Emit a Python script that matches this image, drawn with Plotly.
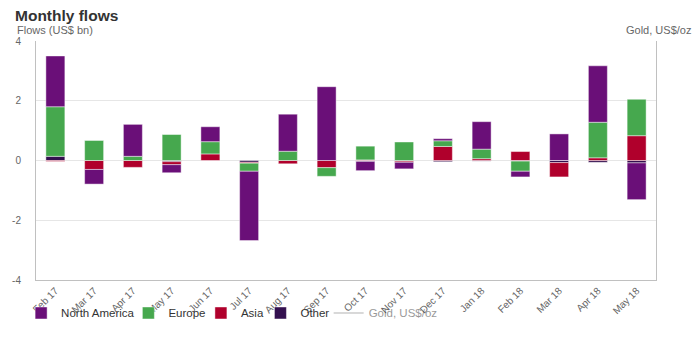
import plotly.graph_objects as go

months = ["Feb 17", "Mar 17", "Apr 17", "May 17", "Jun 17", "Jul 17", "Aug 17", "Sep 17",
          "Oct 17", "Nov 17", "Dec 17", "Jan 18", "Feb 18", "Mar 18", "Apr 18", "May 18"]

north_america = [1.70, -0.49, 1.07, -0.27, 0.50, -2.32, 1.24, 2.47,
                 -0.31, -0.22, 0.07, 0.92, -0.19, 0.89, 1.89, -1.23]
europe = [1.66, 0.67, 0.14, 0.87, 0.41, -0.27, 0.31, -0.29,
          0.46, 0.62, 0.19, 0.32, -0.34, 0.00, 1.19, 1.22]
asia = [-0.03, -0.30, -0.23, -0.10, 0.22, -0.03, -0.11, -0.24,
        0.02, -0.04, 0.47, 0.06, 0.30, -0.48, 0.09, 0.83]
other = [0.14, 0.00, 0.00, -0.04, 0.00, -0.06, 0.00, 0.00,
         -0.03, -0.02, -0.04, -0.02, -0.02, -0.07, -0.06, -0.08]
# hidden series (legend only) — its values are not visible in the chart
gold = [None] * len(months)

series_names = ["North America", "Europe", "Asia", "Other"]
series_colors = ["#6a0f78", "#46a84e", "#b0002c", "#33104f"]
series_values = [north_america, europe, asia, other]
legend_ids = ["legend", "legend2", "legend3", "legend4"]
legend_x = [-0.024, 0.149, 0.266, 0.362, 0.472]

fig = go.Figure()

# stacked so that "Other" is nearest to zero and "North America" is outermost
for name, color, vals, lg in reversed(list(zip(series_names, series_colors, series_values, legend_ids))):
    fig.add_trace(go.Bar(
        x=months, y=vals, name=name, legend=lg,
        marker=dict(color=color, line=dict(color="rgba(255,255,255,0.45)", width=1)),
    ))

fig.add_trace(go.Scatter(
    x=months, y=gold, name="Gold, US$/oz", mode="lines", legend="legend5",
    line=dict(color="#999999", width=1.5), visible="legendonly", yaxis="y2",
))

legend_style = dict(orientation="h", xanchor="left", y=-0.138, yanchor="middle",
                    bgcolor="rgba(0,0,0,0)", font=dict(size=11.5, color="#333333"),
                    itemclick=False, itemdoubleclick=False)

fig.update_layout(
    width=700, height=350,
    margin=dict(l=31, r=44, t=41, b=70),
    barmode="relative", bargap=0.51,
    plot_bgcolor="white", paper_bgcolor="white",
    font=dict(family="Liberation Sans, Arial, sans-serif", color="#666666", size=10),
    showlegend=True,
    legend=dict(x=legend_x[0], **legend_style),
    legend2=dict(x=legend_x[1], **legend_style),
    legend3=dict(x=legend_x[2], **legend_style),
    legend4=dict(x=legend_x[3], **legend_style),
    legend5=dict(x=legend_x[4], **legend_style),
    xaxis=dict(categoryorder="array", categoryarray=months, tickangle=-45,
               showline=True, linecolor="#c0c0c0", linewidth=1, showgrid=False,
               tickfont=dict(size=10, color="#666666"), ticks=""),
    yaxis=dict(range=[-4, 4], tickvals=[-4, -2, 0, 2, 4], ticktext=["-4", "-2", "0", "2", "4"],
               showline=True, linecolor="#c0c0c0", linewidth=1, mirror=True,
               gridcolor="#e6e6e6", gridwidth=1, zeroline=False,
               tickfont=dict(size=10, color="#666666"), ticklabelstandoff=12, ticks=""),
    yaxis2=dict(overlaying="y", side="right", showgrid=False, showticklabels=False,
                zeroline=False, showline=False, range=[0, 1]),
    annotations=[
        dict(text="<b>Monthly flows</b>", xref="paper", yref="paper", x=-31/625, y=1 + (41-15)/239,
             xanchor="left", yanchor="middle", showarrow=False, xshift=8,
             font=dict(size=15.5, color="#333333")),
        dict(text="Flows (US$ bn)", xref="paper", yref="paper", x=-31/625, y=1 + (41-30)/239,
             xanchor="left", yanchor="middle", showarrow=False, xshift=10,
             font=dict(size=11, color="#666666")),
        dict(text="Gold, US$/oz", xref="paper", yref="paper", x=1 + 44/625, y=1 + (41-30)/239,
             xanchor="right", yanchor="middle", showarrow=False, xshift=-7,
             font=dict(size=11, color="#666666")),
    ],
)

fig.write_html("out.html")
